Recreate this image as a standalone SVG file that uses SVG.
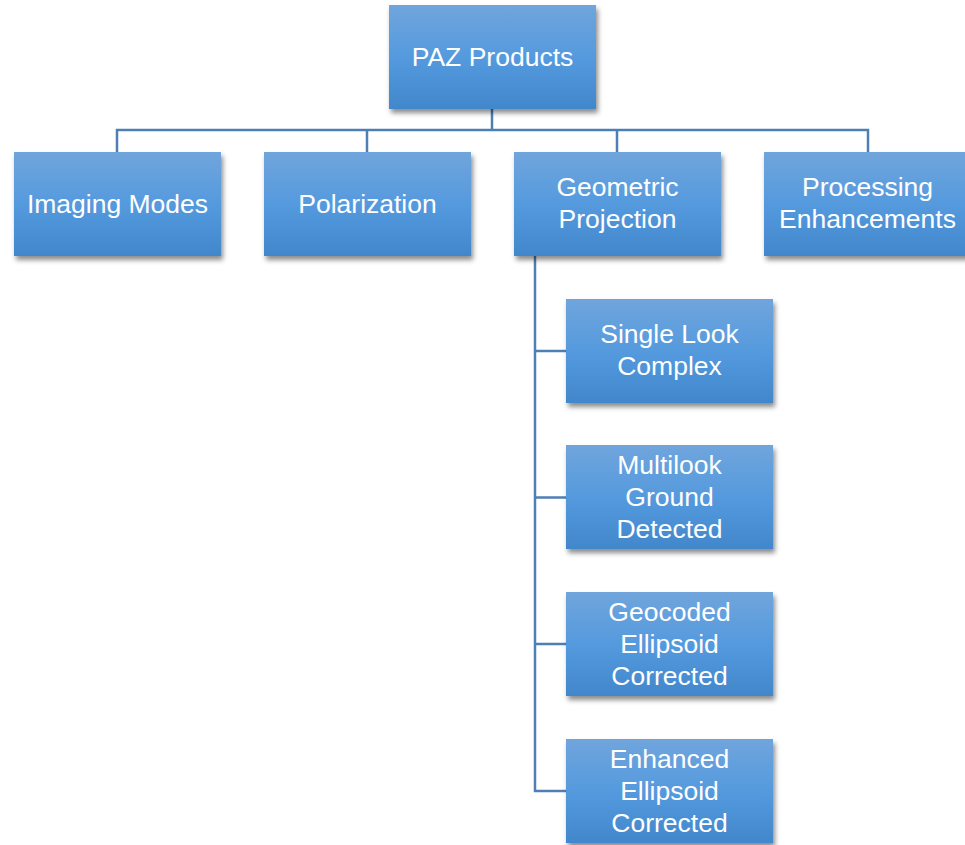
<svg xmlns="http://www.w3.org/2000/svg" width="965" height="845" viewBox="0 0 965 845">
<defs>
<linearGradient id="g" x1="0" y1="0" x2="0" y2="1">
<stop offset="0" stop-color="#70a5dc"/>
<stop offset="0.5" stop-color="#559ade"/>
<stop offset="1" stop-color="#4287cb"/>
</linearGradient>
<filter id="sh" x="-10%" y="-10%" width="125%" height="130%">
<feDropShadow dx="2" dy="4" stdDeviation="2.5" flood-color="#000" flood-opacity="0.45"/>
</filter>
</defs>
<style>
.box{fill:url(#g);filter:url(#sh)}
.t{font-family:"Liberation Sans",Arial,sans-serif;font-size:26.5px;fill:#fff;text-anchor:middle}
.c{fill:none;stroke:#4d7fb5;stroke-width:2.5}
</style>
<rect width="965" height="845" fill="#fff"/>
<g id="connectors">
<path class="c" d="M492 109V130M117 152V130H868V152M367 130V152M617 130V152"/>
<path class="c" d="M535 256V791H566M535 351H566M535 497.5H566M535 644H566"/>
</g>
<g id="paz"><rect class="box" x="389" y="5" width="207" height="104"/><text class="t" x="492.5" y="66">PAZ Products</text></g>
<g id="imaging"><rect class="box" x="14" y="152" width="207" height="104"/><text class="t" x="117.5" y="213">Imaging Modes</text></g>
<g id="polarization"><rect class="box" x="264" y="152" width="207" height="104"/><text class="t" x="367.5" y="213">Polarization</text></g>
<g id="geometric"><rect class="box" x="514" y="152" width="207" height="104"/><text class="t" x="617.5" y="196">Geometric</text><text class="t" x="617.5" y="228">Projection</text></g>
<g id="processing"><rect class="box" x="764" y="152" width="207" height="104"/><text class="t" x="867.5" y="196">Processing</text><text class="t" x="867.5" y="228">Enhancements</text></g>
<g id="slc"><rect class="box" x="566" y="299" width="207" height="104"/><text class="t" x="669.5" y="343">Single Look</text><text class="t" x="669.5" y="375">Complex</text></g>
<g id="mgd"><rect class="box" x="566" y="445" width="207" height="104"/><text class="t" x="669.5" y="474">Multilook</text><text class="t" x="669.5" y="506">Ground</text><text class="t" x="669.5" y="538">Detected</text></g>
<g id="gec"><rect class="box" x="566" y="592" width="207" height="104"/><text class="t" x="669.5" y="621">Geocoded</text><text class="t" x="669.5" y="653">Ellipsoid</text><text class="t" x="669.5" y="685">Corrected</text></g>
<g id="eec"><rect class="box" x="566" y="739" width="207" height="104"/><text class="t" x="669.5" y="768">Enhanced</text><text class="t" x="669.5" y="800">Ellipsoid</text><text class="t" x="669.5" y="832">Corrected</text></g>
</svg>
